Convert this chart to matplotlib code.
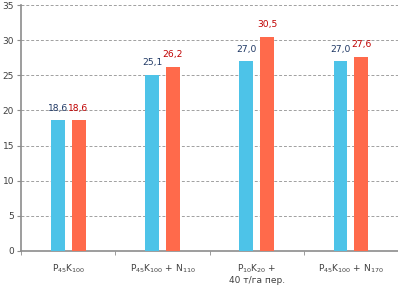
import matplotlib
matplotlib.use("Agg")
import matplotlib.pyplot as plt
import numpy as np

CATEGORIES = [
    r"P$_{45}$K$_{100}$",
    r"P$_{45}$K$_{100}$ + N$_{110}$",
    "P$_{10}$K$_{20}$ +\n40 т/га пер.",
    r"P$_{45}$K$_{100}$ + N$_{170}$",
]
SERIES_A = [18.6, 25.1, 27.0, 27.0]
SERIES_B = [18.6, 26.2, 30.5, 27.6]
Y_TICKS = [0, 5, 10, 15, 20, 25, 30, 35]

BLUE = "#4DC3E8"
RED = "#FF6A4B"
BLUE_TXT = "#1F3864"
RED_TXT = "#C00000"
GRAY = "#8C8C8C"

fig = plt.figure(figsize=(3.98, 2.88), dpi=100)
ax = fig.add_axes([0.053, 0.1285, 0.947, 0.854])

x = np.arange(len(CATEGORIES))
w = 0.148
off = 0.11
ax.bar(x - off, SERIES_A, width=w, color=BLUE, zorder=3)
ax.bar(x + off, SERIES_B, width=w, color=RED, zorder=3)

for xi, a, b in zip(x, SERIES_A, SERIES_B):
    ax.text(xi - off, a + 1.1, f"{a:.1f}".replace(".", ","), ha="center",
            va="bottom", fontsize=6.6, color=BLUE_TXT)
    ax.text(xi + off, b + 1.1, f"{b:.1f}".replace(".", ","), ha="center",
            va="bottom", fontsize=6.6, color=RED_TXT)

ax.set_xlim(-0.5, len(CATEGORIES) - 0.5)
ax.set_ylim(0, 35)
ax.set_yticks(Y_TICKS)
ax.tick_params(axis="y", labelsize=6.5, labelcolor="#404040", length=3,
               color=GRAY, pad=2)
ax.set_xticks(x)
ax.set_xticklabels(CATEGORIES, fontsize=6.5, color="#404040")
ax.tick_params(axis="x", length=0, pad=8)
ax.set_xticks(np.arange(len(CATEGORIES) + 1) - 0.5, minor=True)
ax.tick_params(axis="x", which="minor", length=3, color=GRAY)

ax.yaxis.grid(True, linestyle=(0, (3, 2)), color="#A0A0A0", linewidth=0.7,
              zorder=0)
for side in ["top", "right"]:
    ax.spines[side].set_visible(False)
for side in ["left", "bottom"]:
    ax.spines[side].set_color(GRAY)
    ax.spines[side].set_linewidth(1.2)

fig.savefig("out.png", dpi=100)
